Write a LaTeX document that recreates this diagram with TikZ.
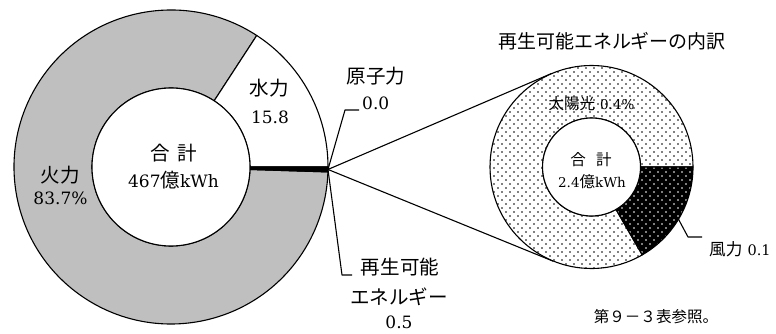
\documentclass[tikz,border=0pt]{standalone}
\usepackage{fontspec}
\setmainfont{DejaVu Serif}
\newfontfamily\cjk[Scale=1.15]{Noto Sans CJK JP}
\usetikzlibrary{calc,patterns}
\definecolor{thermalgray}{HTML}{BFBFBF}
\pgfdeclarepatternformonly{sparsedots}{\pgfqpoint{-1pt}{-1pt}}{\pgfqpoint{9pt}{9pt}}{\pgfqpoint{8pt}{8pt}}{%
  \pgfpathcircle{\pgfqpoint{2pt}{2pt}}{0.85pt}%
  \pgfpathcircle{\pgfqpoint{6pt}{6pt}}{0.85pt}%
  \pgfusepath{fill}}
\begin{document}
\begin{tikzpicture}[x=1pt,y=1pt,line join=round,
  ring/.style={draw=black,line width=1.1pt},
  lead/.style={draw=black,line width=1.1pt},
  lbl/.style={font=\fontsize{17}{20}\selectfont,inner sep=0pt},
  slbl/.style={font=\fontsize{13.5}{16}\selectfont,inner sep=0pt},
  ttl/.style={font=\fontsize{16.5}{20}\selectfont,inner sep=0pt}]
\useasboundingbox (0,0) rectangle (776,334);
\coordinate (c1) at (171,167);
\coordinate (c2) at (591.5,167);
% ---- left donut ----
\filldraw[fill=thermalgray,ring,shift={(c1)}] (56.9:157pt) arc[start angle=56.9,end angle=358.2,radius=157pt]
  -- (358.2:79pt) arc[start angle=358.2,end angle=56.9,radius=79pt] -- cycle;
\filldraw[fill=white,ring,shift={(c1)}] (0:157pt) arc[start angle=0,end angle=56.9,radius=157pt]
  -- (56.9:79pt) arc[start angle=56.9,end angle=0,radius=79pt] -- cycle;
\filldraw[fill=black,ring,shift={(c1)}] (358.2:157pt) arc[start angle=358.2,end angle=360,radius=157pt]
  -- (0:79pt) arc[start angle=360,end angle=358.2,radius=79pt] -- cycle;
\filldraw[fill=white,ring] (c1) circle[radius=79pt];
\coordinate (p) at ($(c1)+(-0.9:157pt)$);
% ---- tangent lines ----
\node[circle,minimum size=203pt,inner sep=0pt] (c2n) at (c2) {};
\coordinate (t1) at (tangent cs:node=c2n,point={(p)},solution=1);
\coordinate (t2) at (tangent cs:node=c2n,point={(p)},solution=2);
\draw[lead] (p) -- (t1);
\draw[lead] (p) -- (t2);
% ---- right donut ----
\path[ring,preaction={fill=white},pattern=sparsedots,pattern color=black,shift={(c2)}]
  (0:101.5pt) arc[start angle=0,end angle=300,radius=101.5pt]
  -- (300:49pt) arc[start angle=300,end angle=0,radius=49pt] -- cycle;
\path[ring,preaction={fill=black},pattern=sparsedots,pattern color=white,shift={(c2)}]
  (300:101.5pt) arc[start angle=300,end angle=360,radius=101.5pt]
  -- (0:49pt) arc[start angle=360,end angle=300,radius=49pt] -- cycle;
\filldraw[fill=white,ring] (c2) circle[radius=49pt];
% ---- leaders ----
\coordinate (nk) at (345,224);
\coordinate (ne) at (359,224);
\draw[lead] (p) -- (nk) -- (ne);
\coordinate (rk) at (342,59);
\coordinate (re) at (352,59);
\draw[lead] (p) -- (rk) -- (re);
\coordinate (w0) at ($(c2)+(-31:101.5pt)$);
\coordinate (wk) at (688,97);
\coordinate (we) at (702,97);
\draw[lead] (w0) -- (wk) -- (we);
% ---- labels left ----
\node[lbl] (hyd1) at (269,246) {\cjk 水力};
\node[lbl] (hyd2) at (270,217) {15.8};
\node[lbl] (th1) at (60,159) {\cjk 火力};
\node[lbl] (th2) at (60.5,136) {83.7\%};
\node[lbl] (tot1) at (173.5,181) {{\cjk 合}\hspace{7pt}{\cjk 計}};
\node[lbl] (tot2) at (173.5,154) {467{\cjk 億}kWh};
\node[lbl] (nuc1) at (376,258) {\cjk 原子力};
\node[lbl,anchor=base west] (nuc2) at (362,224) {0.0};
\node[lbl] (ren1) at (400,67) {\cjk 再生可能};
\node[lbl] (ren2) at (399,37) {\cjk エネルギー};
\node[lbl] (ren3) at (399,12) {0.5};
% ---- labels right ----
\node[ttl] (title) at (612,293) {\cjk 再生可能エネルギーの内訳};
\node[slbl] (sol) at (591.5,230) {{\cjk 太陽光}\hspace{5pt}0.4\%};
\node[slbl] (tot3) at (591,174) {{\cjk 合}\hspace{10pt}{\cjk 計}};
\node[slbl] (tot4) at (592,152) {2.4{\cjk 億}kWh};
\node[font=\fontsize{14.5}{17}\selectfont,inner sep=0pt,anchor=west] (wind) at (709,84.5) {{\cjk 風力}\hspace{5pt}0.1};
\node[ttl,font=\fontsize{13.5}{16}\selectfont] (note) at (656,17.5) {\cjk 第９－３表参照。};
\end{tikzpicture}
\end{document}
